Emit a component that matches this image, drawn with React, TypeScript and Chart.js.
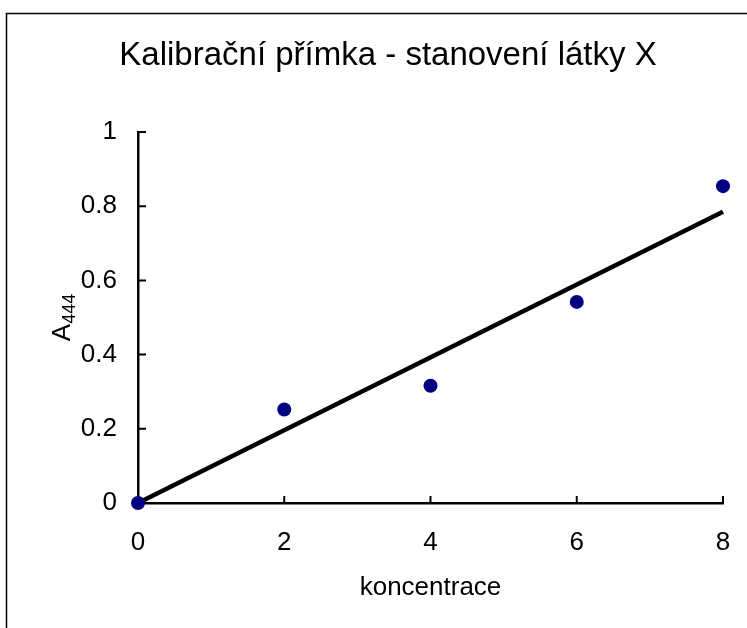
import React, { useEffect, useRef } from "react";
import { Chart, registerables } from "chart.js";

Chart.register(...registerables);

// ---- data ----
const concentrations = [0, 2, 4, 6, 8];
const absorbances = [0, 0.252, 0.316, 0.542, 0.854];
const fitX = [0, 8];
const fitY = [0, 0.785];
const xTickValues = [0, 2, 4, 6, 8];
const yTickValues = [0, 0.2, 0.4, 0.6, 0.8, 1];
const chartTitle = "Kalibrační přímka - stanovení látky X";
const xAxisTitle = "koncentrace";
const yAxisTitleMain = "A";
const yAxisTitleSub = "444";

const FONT = "'Liberation Sans', Arial, sans-serif";

const decorPlugin = {
  id: "decor",
  afterDraw(chart: any) {
    const { ctx, chartArea, scales } = chart;
    const xs = scales.x;
    const ys = scales.y;
    ctx.save();
    // outer frame
    ctx.strokeStyle = "#000";
    ctx.lineWidth = 1.5;
    ctx.strokeRect(6.5, 13.5, 1200, 1200);

    // inward tick marks
    ctx.lineWidth = 2;
    ctx.beginPath();
    xTickValues.forEach((v) => {
      if (v === xs.min) return;
      const px = xs.getPixelForValue(v);
      ctx.moveTo(px, chartArea.bottom + 1);
      ctx.lineTo(px, chartArea.bottom - 7);
    });
    yTickValues.forEach((v) => {
      if (v === ys.min) return;
      const py = ys.getPixelForValue(v);
      ctx.moveTo(chartArea.left - 1, py);
      ctx.lineTo(chartArea.left + 8, py);
    });
    ctx.stroke();

    // title
    ctx.fillStyle = "#000";
    ctx.textAlign = "center";
    ctx.textBaseline = "middle";
    ctx.font = `33px ${FONT}`;
    ctx.fillText(chartTitle, 388, 56);

    // x axis title
    ctx.font = `26px ${FONT}`;
    ctx.fillText(xAxisTitle, (chartArea.left + chartArea.right) / 2, 588);

    // y axis title with subscript
    const cy = (chartArea.top + chartArea.bottom) / 2;
    ctx.translate(61, cy);
    ctx.rotate(-Math.PI / 2);
    ctx.font = `26px ${FONT}`;
    const wMain = ctx.measureText(yAxisTitleMain).width;
    ctx.font = `18px ${FONT}`;
    const wSub = ctx.measureText(yAxisTitleSub).width;
    const start = -(wMain + wSub) / 2;
    ctx.textAlign = "left";
    ctx.textBaseline = "alphabetic";
    ctx.font = `26px ${FONT}`;
    ctx.fillText(yAxisTitleMain, start, 9);
    ctx.font = `18px ${FONT}`;
    ctx.fillText(yAxisTitleSub, start + wMain, 14);
    ctx.restore();
  },
};

export default function App() {
  const ref = useRef<HTMLCanvasElement | null>(null);

  useEffect(() => {
    document.body.style.margin = "0";
    const canvas = ref.current;
    if (!canvas) return;
    const chart = new Chart(canvas, {
      type: "scatter",
      data: {
        datasets: [
          {
            type: "scatter",
            label: "data",
            data: concentrations.map((x, i) => ({ x, y: absorbances[i] })),
            backgroundColor: "#000080",
            borderColor: "#000080",
            pointRadius: 7,
            pointHoverRadius: 7,
            borderWidth: 0,
            clip: false,
            order: 0,
          },
          {
            type: "line",
            label: "fit",
            data: fitX.map((x, i) => ({ x, y: fitY[i] })),
            borderColor: "#000",
            borderWidth: 4.5,
            pointRadius: 0,
            fill: false,
            clip: false,
            order: 1,
          } as any,
        ],
      },
      options: {
        responsive: false,
        animation: false,
        devicePixelRatio: 1,
        layout: { autoPadding: false, padding: { top: 132, left: 0, right: 24, bottom: 0 } },
        plugins: {
          legend: { display: false },
          title: { display: false },
          tooltip: { enabled: false },
        },
        scales: {
          x: {
            type: "linear",
            min: 0,
            max: 8,
            grid: { display: false, drawTicks: false },
            border: { display: true, color: "#000", width: 2.5 },
            ticks: {
              stepSize: 2,
              padding: 24,
              color: "#000",
              font: { family: FONT, size: 26 },
              callback: (v: any) => String(v),
            },
            afterFit: (s: any) => {
              s.height = 125;
              s.paddingLeft = 0;
              s.paddingRight = 0;
            },
          },
          y: {
            type: "linear",
            min: 0,
            max: 1,
            grid: { display: false, drawTicks: false },
            border: { display: true, color: "#000", width: 2.5 },
            ticks: {
              stepSize: 0.2,
              padding: 21,
              color: "#000",
              font: { family: FONT, size: 26 },
              callback: (v: any) => String(Math.round(Number(v) * 10) / 10),
            },
            afterFit: (s: any) => {
              s.width = 138;
              s.paddingTop = 0;
              s.paddingBottom = 0;
            },
          },
        },
      },
      plugins: [decorPlugin],
    });
    return () => chart.destroy();
  }, []);

  return (
    <canvas
      ref={ref}
      width={747}
      height={628}
      style={{ display: "block", width: 747, height: 628 }}
    />
  );
}
